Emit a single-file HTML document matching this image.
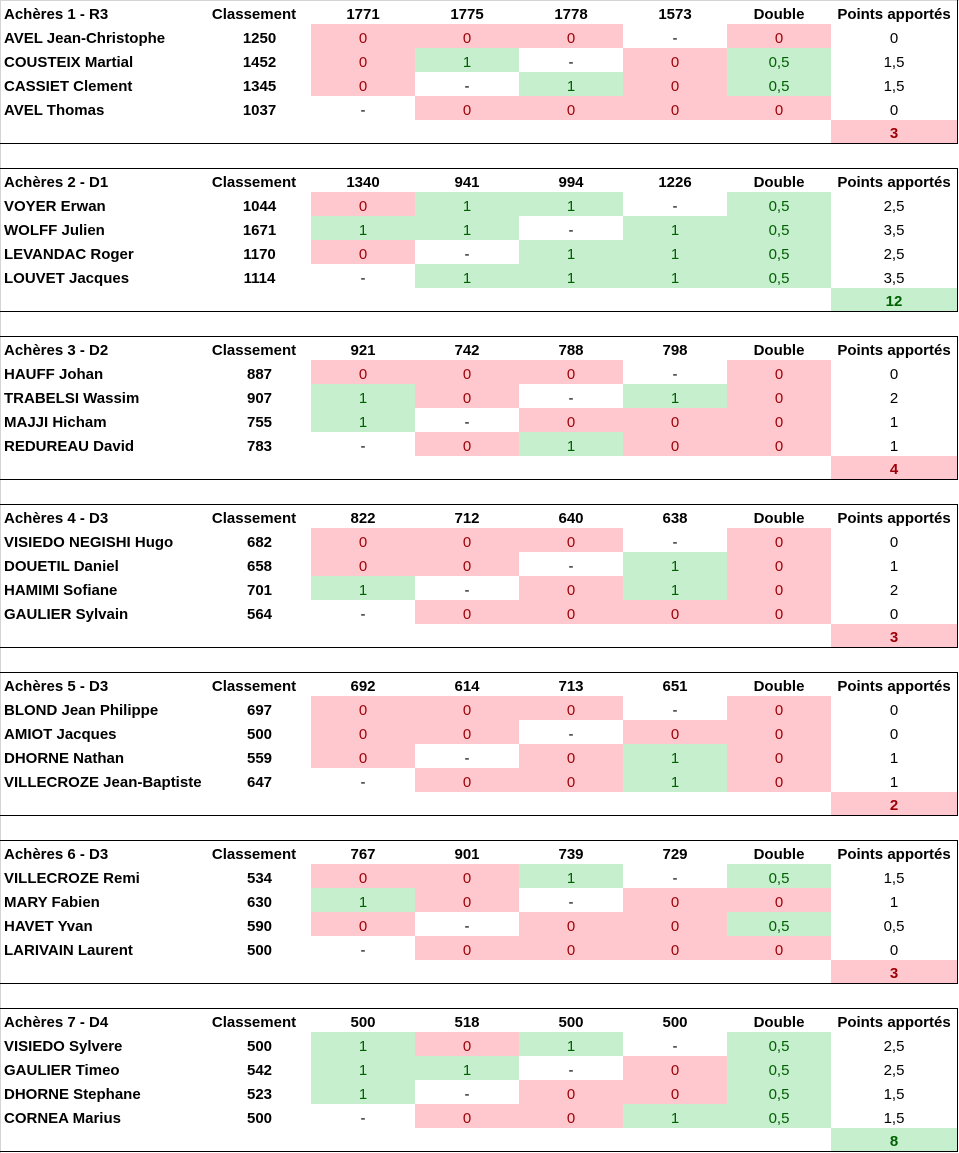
<!DOCTYPE html>
<html><head><meta charset="utf-8">
<style>
html,body{margin:0;padding:0;background:#fff;}
body{width:959px;height:1153px;position:relative;overflow:hidden;font-family:"Liberation Sans",Arial,sans-serif;font-size:15px;color:#000;}
table{position:absolute;left:0;width:957px;table-layout:fixed;border-collapse:collapse;border-spacing:0;}
td{padding:0;height:24px;line-height:24px;text-align:center;white-space:nowrap;overflow:visible;font-weight:normal;}
td span{position:relative;top:2.5px;}
tr.h td{font-weight:bold;}
td.n{text-align:left;padding-left:4px;font-weight:bold;}
td.k{font-weight:bold;padding-left:8px;}
tr.h td.k{padding-left:0;padding-right:3px;}
td.r{background:#FFC7CE;color:#9C0006;}
td.g{background:#C6EFCE;color:#006100;}
tr.t td{height:23px;line-height:23px;}
tr.t td span{top:1.5px;}
tr.t td.tot{font-weight:bold;}
.ln{position:absolute;background:#000;}
.gr{position:absolute;background:#d4d4d4;}
</style></head><body>

<div class="gr" style="left:0;top:0;width:959px;height:1px;"></div>
<div class="gr" style="left:0;top:0;width:1px;height:1153px;"></div>

<!-- Block 1 -->
<table style="top:0;">
<colgroup><col style="width:200px"><col style="width:111px"><col style="width:104px"><col style="width:104px"><col style="width:104px"><col style="width:104px"><col style="width:104px"><col style="width:126px"></colgroup>
<tr class="h"><td class="n"><span>Achères 1 - R3</span></td><td class="k"><span>Classement</span></td><td><span>1771</span></td><td><span>1775</span></td><td><span>1778</span></td><td><span>1573</span></td><td><span>Double</span></td><td><span>Points apportés</span></td></tr>
<tr><td class="n"><span>AVEL Jean-Christophe</span></td><td class="k"><span>1250</span></td><td class="r"><span>0</span></td><td class="r"><span>0</span></td><td class="r"><span>0</span></td><td><span>-</span></td><td class="r"><span>0</span></td><td><span>0</span></td></tr>
<tr><td class="n"><span>COUSTEIX Martial</span></td><td class="k"><span>1452</span></td><td class="r"><span>0</span></td><td class="g"><span>1</span></td><td><span>-</span></td><td class="r"><span>0</span></td><td class="g"><span>0,5</span></td><td><span>1,5</span></td></tr>
<tr><td class="n"><span>CASSIET Clement</span></td><td class="k"><span>1345</span></td><td class="r"><span>0</span></td><td><span>-</span></td><td class="g"><span>1</span></td><td class="r"><span>0</span></td><td class="g"><span>0,5</span></td><td><span>1,5</span></td></tr>
<tr><td class="n"><span>AVEL Thomas</span></td><td class="k"><span>1037</span></td><td><span>-</span></td><td class="r"><span>0</span></td><td class="r"><span>0</span></td><td class="r"><span>0</span></td><td class="r"><span>0</span></td><td><span>0</span></td></tr>
<tr class="t"><td></td><td></td><td></td><td></td><td></td><td></td><td></td><td class="r tot"><span>3</span></td></tr>
</table>
<div class="ln" style="left:0;top:143px;width:958px;height:1px;"></div>
<div class="ln" style="left:957px;top:0;width:1px;height:144px;"></div>

<!-- Block 2 -->
<table style="top:168px;">
<colgroup><col style="width:200px"><col style="width:111px"><col style="width:104px"><col style="width:104px"><col style="width:104px"><col style="width:104px"><col style="width:104px"><col style="width:126px"></colgroup>
<tr class="h"><td class="n"><span>Achères 2 - D1</span></td><td class="k"><span>Classement</span></td><td><span>1340</span></td><td><span>941</span></td><td><span>994</span></td><td><span>1226</span></td><td><span>Double</span></td><td><span>Points apportés</span></td></tr>
<tr><td class="n"><span>VOYER Erwan</span></td><td class="k"><span>1044</span></td><td class="r"><span>0</span></td><td class="g"><span>1</span></td><td class="g"><span>1</span></td><td><span>-</span></td><td class="g"><span>0,5</span></td><td><span>2,5</span></td></tr>
<tr><td class="n"><span>WOLFF Julien</span></td><td class="k"><span>1671</span></td><td class="g"><span>1</span></td><td class="g"><span>1</span></td><td><span>-</span></td><td class="g"><span>1</span></td><td class="g"><span>0,5</span></td><td><span>3,5</span></td></tr>
<tr><td class="n"><span>LEVANDAC Roger</span></td><td class="k"><span>1170</span></td><td class="r"><span>0</span></td><td><span>-</span></td><td class="g"><span>1</span></td><td class="g"><span>1</span></td><td class="g"><span>0,5</span></td><td><span>2,5</span></td></tr>
<tr><td class="n"><span>LOUVET Jacques</span></td><td class="k"><span>1114</span></td><td><span>-</span></td><td class="g"><span>1</span></td><td class="g"><span>1</span></td><td class="g"><span>1</span></td><td class="g"><span>0,5</span></td><td><span>3,5</span></td></tr>
<tr class="t"><td></td><td></td><td></td><td></td><td></td><td></td><td></td><td class="g tot"><span>12</span></td></tr>
</table>
<div class="ln" style="left:0;top:168px;width:958px;height:1px;"></div>
<div class="ln" style="left:0;top:311px;width:958px;height:1px;"></div>
<div class="ln" style="left:957px;top:168px;width:1px;height:144px;"></div>

<!-- Block 3 -->
<table style="top:336px;">
<colgroup><col style="width:200px"><col style="width:111px"><col style="width:104px"><col style="width:104px"><col style="width:104px"><col style="width:104px"><col style="width:104px"><col style="width:126px"></colgroup>
<tr class="h"><td class="n"><span>Achères 3 - D2</span></td><td class="k"><span>Classement</span></td><td><span>921</span></td><td><span>742</span></td><td><span>788</span></td><td><span>798</span></td><td><span>Double</span></td><td><span>Points apportés</span></td></tr>
<tr><td class="n"><span>HAUFF Johan</span></td><td class="k"><span>887</span></td><td class="r"><span>0</span></td><td class="r"><span>0</span></td><td class="r"><span>0</span></td><td><span>-</span></td><td class="r"><span>0</span></td><td><span>0</span></td></tr>
<tr><td class="n"><span>TRABELSI Wassim</span></td><td class="k"><span>907</span></td><td class="g"><span>1</span></td><td class="r"><span>0</span></td><td><span>-</span></td><td class="g"><span>1</span></td><td class="r"><span>0</span></td><td><span>2</span></td></tr>
<tr><td class="n"><span>MAJJI Hicham</span></td><td class="k"><span>755</span></td><td class="g"><span>1</span></td><td><span>-</span></td><td class="r"><span>0</span></td><td class="r"><span>0</span></td><td class="r"><span>0</span></td><td><span>1</span></td></tr>
<tr><td class="n"><span>REDUREAU David</span></td><td class="k"><span>783</span></td><td><span>-</span></td><td class="r"><span>0</span></td><td class="g"><span>1</span></td><td class="r"><span>0</span></td><td class="r"><span>0</span></td><td><span>1</span></td></tr>
<tr class="t"><td></td><td></td><td></td><td></td><td></td><td></td><td></td><td class="r tot"><span>4</span></td></tr>
</table>
<div class="ln" style="left:0;top:336px;width:958px;height:1px;"></div>
<div class="ln" style="left:0;top:479px;width:958px;height:1px;"></div>
<div class="ln" style="left:957px;top:336px;width:1px;height:144px;"></div>

<!-- Block 4 -->
<table style="top:504px;">
<colgroup><col style="width:200px"><col style="width:111px"><col style="width:104px"><col style="width:104px"><col style="width:104px"><col style="width:104px"><col style="width:104px"><col style="width:126px"></colgroup>
<tr class="h"><td class="n"><span>Achères 4 - D3</span></td><td class="k"><span>Classement</span></td><td><span>822</span></td><td><span>712</span></td><td><span>640</span></td><td><span>638</span></td><td><span>Double</span></td><td><span>Points apportés</span></td></tr>
<tr><td class="n"><span>VISIEDO NEGISHI Hugo</span></td><td class="k"><span>682</span></td><td class="r"><span>0</span></td><td class="r"><span>0</span></td><td class="r"><span>0</span></td><td><span>-</span></td><td class="r"><span>0</span></td><td><span>0</span></td></tr>
<tr><td class="n"><span>DOUETIL Daniel</span></td><td class="k"><span>658</span></td><td class="r"><span>0</span></td><td class="r"><span>0</span></td><td><span>-</span></td><td class="g"><span>1</span></td><td class="r"><span>0</span></td><td><span>1</span></td></tr>
<tr><td class="n"><span>HAMIMI Sofiane</span></td><td class="k"><span>701</span></td><td class="g"><span>1</span></td><td><span>-</span></td><td class="r"><span>0</span></td><td class="g"><span>1</span></td><td class="r"><span>0</span></td><td><span>2</span></td></tr>
<tr><td class="n"><span>GAULIER Sylvain</span></td><td class="k"><span>564</span></td><td><span>-</span></td><td class="r"><span>0</span></td><td class="r"><span>0</span></td><td class="r"><span>0</span></td><td class="r"><span>0</span></td><td><span>0</span></td></tr>
<tr class="t"><td></td><td></td><td></td><td></td><td></td><td></td><td></td><td class="r tot"><span>3</span></td></tr>
</table>
<div class="ln" style="left:0;top:504px;width:958px;height:1px;"></div>
<div class="ln" style="left:0;top:647px;width:958px;height:1px;"></div>
<div class="ln" style="left:957px;top:504px;width:1px;height:144px;"></div>

<!-- Block 5 -->
<table style="top:672px;">
<colgroup><col style="width:200px"><col style="width:111px"><col style="width:104px"><col style="width:104px"><col style="width:104px"><col style="width:104px"><col style="width:104px"><col style="width:126px"></colgroup>
<tr class="h"><td class="n"><span>Achères 5 - D3</span></td><td class="k"><span>Classement</span></td><td><span>692</span></td><td><span>614</span></td><td><span>713</span></td><td><span>651</span></td><td><span>Double</span></td><td><span>Points apportés</span></td></tr>
<tr><td class="n"><span>BLOND Jean Philippe</span></td><td class="k"><span>697</span></td><td class="r"><span>0</span></td><td class="r"><span>0</span></td><td class="r"><span>0</span></td><td><span>-</span></td><td class="r"><span>0</span></td><td><span>0</span></td></tr>
<tr><td class="n"><span>AMIOT Jacques</span></td><td class="k"><span>500</span></td><td class="r"><span>0</span></td><td class="r"><span>0</span></td><td><span>-</span></td><td class="r"><span>0</span></td><td class="r"><span>0</span></td><td><span>0</span></td></tr>
<tr><td class="n"><span>DHORNE Nathan</span></td><td class="k"><span>559</span></td><td class="r"><span>0</span></td><td><span>-</span></td><td class="r"><span>0</span></td><td class="g"><span>1</span></td><td class="r"><span>0</span></td><td><span>1</span></td></tr>
<tr><td class="n"><span>VILLECROZE Jean-Baptiste</span></td><td class="k"><span>647</span></td><td><span>-</span></td><td class="r"><span>0</span></td><td class="r"><span>0</span></td><td class="g"><span>1</span></td><td class="r"><span>0</span></td><td><span>1</span></td></tr>
<tr class="t"><td></td><td></td><td></td><td></td><td></td><td></td><td></td><td class="r tot"><span>2</span></td></tr>
</table>
<div class="ln" style="left:0;top:672px;width:958px;height:1px;"></div>
<div class="ln" style="left:0;top:815px;width:958px;height:1px;"></div>
<div class="ln" style="left:957px;top:672px;width:1px;height:144px;"></div>

<!-- Block 6 -->
<table style="top:840px;">
<colgroup><col style="width:200px"><col style="width:111px"><col style="width:104px"><col style="width:104px"><col style="width:104px"><col style="width:104px"><col style="width:104px"><col style="width:126px"></colgroup>
<tr class="h"><td class="n"><span>Achères 6 - D3</span></td><td class="k"><span>Classement</span></td><td><span>767</span></td><td><span>901</span></td><td><span>739</span></td><td><span>729</span></td><td><span>Double</span></td><td><span>Points apportés</span></td></tr>
<tr><td class="n"><span>VILLECROZE Remi</span></td><td class="k"><span>534</span></td><td class="r"><span>0</span></td><td class="r"><span>0</span></td><td class="g"><span>1</span></td><td><span>-</span></td><td class="g"><span>0,5</span></td><td><span>1,5</span></td></tr>
<tr><td class="n"><span>MARY Fabien</span></td><td class="k"><span>630</span></td><td class="g"><span>1</span></td><td class="r"><span>0</span></td><td><span>-</span></td><td class="r"><span>0</span></td><td class="r"><span>0</span></td><td><span>1</span></td></tr>
<tr><td class="n"><span>HAVET Yvan</span></td><td class="k"><span>590</span></td><td class="r"><span>0</span></td><td><span>-</span></td><td class="r"><span>0</span></td><td class="r"><span>0</span></td><td class="g"><span>0,5</span></td><td><span>0,5</span></td></tr>
<tr><td class="n"><span>LARIVAIN Laurent</span></td><td class="k"><span>500</span></td><td><span>-</span></td><td class="r"><span>0</span></td><td class="r"><span>0</span></td><td class="r"><span>0</span></td><td class="r"><span>0</span></td><td><span>0</span></td></tr>
<tr class="t"><td></td><td></td><td></td><td></td><td></td><td></td><td></td><td class="r tot"><span>3</span></td></tr>
</table>
<div class="ln" style="left:0;top:840px;width:958px;height:1px;"></div>
<div class="ln" style="left:0;top:983px;width:958px;height:1px;"></div>
<div class="ln" style="left:957px;top:840px;width:1px;height:144px;"></div>

<!-- Block 7 -->
<table style="top:1008px;">
<colgroup><col style="width:200px"><col style="width:111px"><col style="width:104px"><col style="width:104px"><col style="width:104px"><col style="width:104px"><col style="width:104px"><col style="width:126px"></colgroup>
<tr class="h"><td class="n"><span>Achères 7 - D4</span></td><td class="k"><span>Classement</span></td><td><span>500</span></td><td><span>518</span></td><td><span>500</span></td><td><span>500</span></td><td><span>Double</span></td><td><span>Points apportés</span></td></tr>
<tr><td class="n"><span>VISIEDO Sylvere</span></td><td class="k"><span>500</span></td><td class="g"><span>1</span></td><td class="r"><span>0</span></td><td class="g"><span>1</span></td><td><span>-</span></td><td class="g"><span>0,5</span></td><td><span>2,5</span></td></tr>
<tr><td class="n"><span>GAULIER Timeo</span></td><td class="k"><span>542</span></td><td class="g"><span>1</span></td><td class="g"><span>1</span></td><td><span>-</span></td><td class="r"><span>0</span></td><td class="g"><span>0,5</span></td><td><span>2,5</span></td></tr>
<tr><td class="n"><span>DHORNE Stephane</span></td><td class="k"><span>523</span></td><td class="g"><span>1</span></td><td><span>-</span></td><td class="r"><span>0</span></td><td class="r"><span>0</span></td><td class="g"><span>0,5</span></td><td><span>1,5</span></td></tr>
<tr><td class="n"><span>CORNEA Marius</span></td><td class="k"><span>500</span></td><td><span>-</span></td><td class="r"><span>0</span></td><td class="r"><span>0</span></td><td class="g"><span>1</span></td><td class="g"><span>0,5</span></td><td><span>1,5</span></td></tr>
<tr class="t"><td></td><td></td><td></td><td></td><td></td><td></td><td></td><td class="g tot"><span>8</span></td></tr>
</table>
<div class="ln" style="left:0;top:1008px;width:958px;height:1px;"></div>
<div class="ln" style="left:0;top:1151px;width:958px;height:1px;"></div>
<div class="ln" style="left:957px;top:1008px;width:1px;height:144px;"></div>

</body></html>
